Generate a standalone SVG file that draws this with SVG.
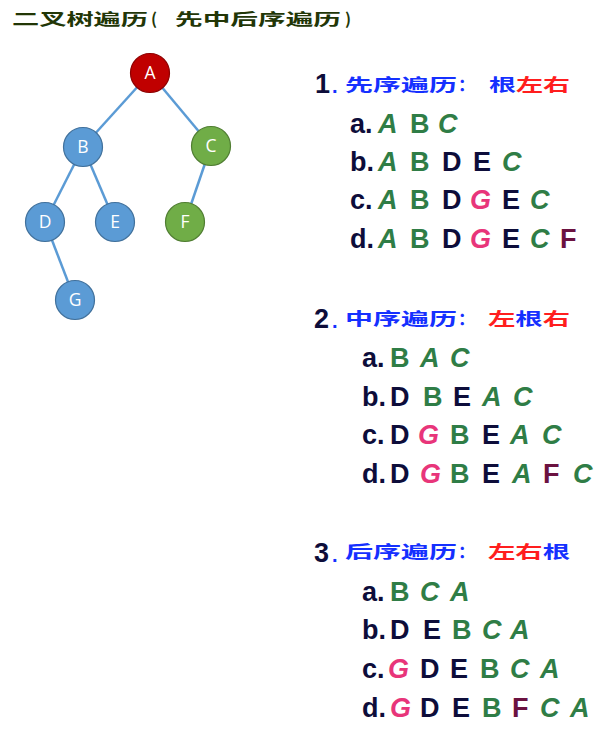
<svg xmlns="http://www.w3.org/2000/svg" width="614" height="740" viewBox="0 0 614 740">
<style>
.edge{stroke:#5b9bd5;stroke-width:2.5;fill:none}
.nb{fill:#5b9bd5;stroke:#41719c;stroke-width:1.2}
.nr{fill:#c00000;stroke:#8f0000;stroke-width:1.2}
.ng{fill:#70ad47;stroke:#507e32;stroke-width:1.2}
.nt{fill:#fff;font-family:"Open Sans","Liberation Sans",sans-serif;font-size:17.5px;text-anchor:middle}
.title{font-family:"Noto Sans CJK SC",sans-serif;font-weight:bold;font-size:16px;fill:#223606}
.num{font-family:"Liberation Sans",sans-serif;font-weight:bold;font-size:27px;fill:#0d0d3a}
.hd{font-family:"Noto Sans CJK SC",sans-serif;font-weight:bold;font-size:17px}
.bl{fill:#1530ff}
.rd{fill:#ff1e1e}
.L{font-family:"Liberation Sans",sans-serif;font-weight:bold;font-size:27px}
.n{fill:#0d0d3a;font-style:normal}
.g{fill:#2f7d46}
.p{fill:#e8357a}
.m{fill:#6b1240}
.i{font-style:italic}
</style>
<g id="title">
<text class="title" x="12" y="25" textLength="136" lengthAdjust="spacingAndGlyphs">二叉树遍历</text>
<text class="title" x="151" y="25">(</text>
<text class="title" x="175" y="25" textLength="166" lengthAdjust="spacingAndGlyphs">先中后序遍历</text>
<text class="title" x="345" y="25">)</text>
</g>
<g id="connectors">
<line class="edge" x1="150" y1="73" x2="83" y2="147"/>
<line class="edge" x1="150" y1="73" x2="211" y2="146"/>
<line class="edge" x1="83" y1="147" x2="45" y2="222"/>
<line class="edge" x1="83" y1="147" x2="115" y2="222"/>
<line class="edge" x1="211" y1="146" x2="185" y2="222"/>
<line class="edge" x1="45" y1="222" x2="75" y2="300"/>
</g>
<g id="node-A"><circle class="nr" cx="150" cy="73" r="19.5"/><text class="nt" x="150" y="79">A</text></g>
<g id="node-B"><circle class="nb" cx="83" cy="147" r="19.5"/><text class="nt" x="83" y="153">B</text></g>
<g id="node-C"><circle class="ng" cx="211" cy="146" r="19.5"/><text class="nt" x="211" y="152">C</text></g>
<g id="node-D"><circle class="nb" cx="45" cy="222" r="19.5"/><text class="nt" x="45" y="228">D</text></g>
<g id="node-E"><circle class="nb" cx="115" cy="222" r="19.5"/><text class="nt" x="115" y="228">E</text></g>
<g id="node-F"><circle class="ng" cx="185" cy="222" r="19.5"/><text class="nt" x="185" y="228">F</text></g>
<g id="node-G"><circle class="nb" cx="75" cy="300" r="19.5"/><text class="nt" x="75" y="306">G</text></g>

<g id="preorder">
<text class="num" x="315" y="93">1</text><text class="num bl" x="332" y="93" style="font-size:20px">.</text>
<text class="hd bl" x="345" y="91" textLength="112" lengthAdjust="spacingAndGlyphs">先序遍历</text>
<text class="hd bl" x="458" y="91">：</text>
<text class="hd" x="489" y="91" textLength="81" lengthAdjust="spacingAndGlyphs"><tspan class="bl">根</tspan><tspan class="rd">左右</tspan></text>
<text class="L" y="133"><tspan class="n" x="350">a.</tspan><tspan class="g i" x="378">A</tspan><tspan class="g" x="410">B</tspan><tspan class="g i" x="438">C</tspan></text>
<text class="L" y="171"><tspan class="n" x="350">b.</tspan><tspan class="g i" x="378">A</tspan><tspan class="g" x="410">B</tspan><tspan class="n" x="442">D</tspan><tspan class="n" x="473">E</tspan><tspan class="g i" x="502">C</tspan></text>
<text class="L" y="209"><tspan class="n" x="350">c.</tspan><tspan class="g i" x="378">A</tspan><tspan class="g" x="410">B</tspan><tspan class="n" x="442">D</tspan><tspan class="p i" x="470">G</tspan><tspan class="n" x="502">E</tspan><tspan class="g i" x="530">C</tspan></text>
<text class="L" y="248"><tspan class="n" x="350">d.</tspan><tspan class="g i" x="378">A</tspan><tspan class="g" x="410">B</tspan><tspan class="n" x="442">D</tspan><tspan class="p i" x="470">G</tspan><tspan class="n" x="502">E</tspan><tspan class="g i" x="530">C</tspan><tspan class="m" x="560">F</tspan></text>
</g>

<g id="inorder">
<text class="num" x="314" y="328">2</text><text class="num bl" x="332" y="328" style="font-size:20px">.</text>
<text class="hd bl" x="345" y="325" textLength="112" lengthAdjust="spacingAndGlyphs">中序遍历</text>
<text class="hd bl" x="458" y="325">：</text>
<text class="hd" x="488" y="325" textLength="82" lengthAdjust="spacingAndGlyphs"><tspan class="rd">左</tspan><tspan class="bl">根</tspan><tspan class="rd">右</tspan></text>
<text class="L" y="367"><tspan class="n" x="362">a.</tspan><tspan class="g" x="390">B</tspan><tspan class="g i" x="420">A</tspan><tspan class="g i" x="450">C</tspan></text>
<text class="L" y="406"><tspan class="n" x="362">b.</tspan><tspan class="n" x="390">D</tspan><tspan class="g" x="423">B</tspan><tspan class="n" x="453">E</tspan><tspan class="g i" x="482">A</tspan><tspan class="g i" x="513">C</tspan></text>
<text class="L" y="444"><tspan class="n" x="362">c.</tspan><tspan class="n" x="390">D</tspan><tspan class="p i" x="418">G</tspan><tspan class="g" x="450">B</tspan><tspan class="n" x="482">E</tspan><tspan class="g i" x="510">A</tspan><tspan class="g i" x="542">C</tspan></text>
<text class="L" y="483"><tspan class="n" x="362">d.</tspan><tspan class="n" x="390">D</tspan><tspan class="p i" x="420">G</tspan><tspan class="g" x="450">B</tspan><tspan class="n" x="482">E</tspan><tspan class="g i" x="512">A</tspan><tspan class="m" x="543">F</tspan><tspan class="g i" x="573">C</tspan></text>
</g>

<g id="postorder">
<text class="num" x="314" y="562">3</text><text class="num bl" x="332" y="562" style="font-size:20px">.</text>
<text class="hd bl" x="345" y="558" textLength="112" lengthAdjust="spacingAndGlyphs">后序遍历</text>
<text class="hd bl" x="458" y="558">：</text>
<text class="hd" x="488" y="558" textLength="82" lengthAdjust="spacingAndGlyphs"><tspan class="rd">左右</tspan><tspan class="bl">根</tspan></text>
<text class="L" y="601"><tspan class="n" x="362">a.</tspan><tspan class="g" x="390">B</tspan><tspan class="g i" x="420">C</tspan><tspan class="g i" x="450">A</tspan></text>
<text class="L" y="639"><tspan class="n" x="362">b.</tspan><tspan class="n" x="390">D</tspan><tspan class="n" x="423">E</tspan><tspan class="g" x="452">B</tspan><tspan class="g i" x="482">C</tspan><tspan class="g i" x="510">A</tspan></text>
<text class="L" y="678"><tspan class="n" x="362">c.</tspan><tspan class="p i" x="388">G</tspan><tspan class="n" x="420">D</tspan><tspan class="n" x="450">E</tspan><tspan class="g" x="480">B</tspan><tspan class="g i" x="510">C</tspan><tspan class="g i" x="540">A</tspan></text>
<text class="L" y="717"><tspan class="n" x="362">d.</tspan><tspan class="p i" x="390">G</tspan><tspan class="n" x="420">D</tspan><tspan class="n" x="452">E</tspan><tspan class="g" x="482">B</tspan><tspan class="m" x="512">F</tspan><tspan class="g i" x="540">C</tspan><tspan class="g i" x="570">A</tspan></text>
</g>
</svg>
